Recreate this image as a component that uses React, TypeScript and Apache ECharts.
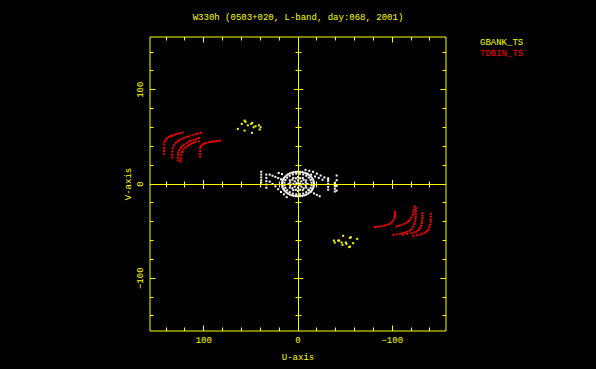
import React, { useEffect, useRef } from "react";
import * as echarts from "echarts";

const TITLE = "W330h (0503+020, L-band, day:068, 2001)";
const X_NAME = "U-axis";
const Y_NAME = "V-axis";
const X_MIN = -157;
const X_MAX = 157;
const Y_MIN = -156;
const Y_MAX = 156;
const TICK_VALUES = [-140, -120, -100, -80, -60, -40, -20, 0, 20, 40, 60, 80, 100, 120, 140];
const LABEL_VALUES = [-100, 0, 100];

// GBANK_TS (yellow) clusters
const GBANK_UPPER: [number, number][] = [
  [56.7, 67.3], [55.6, 66], [59.6, 63.8], [53.2, 62.3], [49.6, 63.8], [48.5, 64.9],
  [47.1, 60.2], [45, 61.3], [41.5, 62.3], [39.7, 60.2], [63.8, 58.5], [56.7, 56.7],
  [48.9, 54.3], [40.7, 57.8],
];
const GBANK_LOWER: [number, number][] = [
  [-38, -60], [-39, -62.1], [-42.6, -60], [-43.6, -60], [-46.2, -62.1], [-47.9, -55],
  [-47.2, -64.6], [-50.7, -62.1], [-51.5, -63.5], [-55, -57.1], [-56.1, -56.5],
  [-54.3, -67], [-55, -66.4], [-58.5, -62.8], [-62.8, -58.2],
];

// TDBIN_TS (red) arcs
const TDBIN_ARC1: [number, number][] = [
  [142, 32], [142, 35], [142, 38], [142, 42], [141.5, 45], [140.4, 47], [139, 48.5],
  [136.8, 50], [135, 51], [133, 51.5], [130.5, 52.5], [128, 53.2], [125.5, 54], [122.7, 54.5],
];
const TDBIN_ARC2: [number, number][] = [
  [133.3, 28], [133.3, 31], [133.3, 34.5], [133, 38], [131.5, 41], [129.8, 43.6], [128, 45],
  [126.2, 46.4], [123.5, 47.8], [121, 49], [118, 50], [115.5, 50.6], [112, 51.8], [108.5, 53],
  [106, 53.6], [103, 54.3],
];
const TDBIN_ARC3: [number, number][] = [
  [127, 25], [127.2, 28], [127.2, 31], [127, 33.5], [126, 36], [124.5, 38.3], [123, 40],
  [121, 41.8], [118, 43.5], [115.5, 45.3], [113, 46], [110.2, 47], [107.5, 48], [105, 49],
];
const TDBIN_ARC4: [number, number][] = [
  [124.5, 24], [124, 27], [123.7, 31], [123, 34], [121.6, 36.5], [119.5, 38.5], [117.3, 40],
  [115.5, 41.3], [113.8, 42.6], [111, 43.6], [108.5, 44.7], [105, 45.3],
];
const TDBIN_ARC5: [number, number][] = [
  [103.8, 29], [103.8, 32], [103.8, 35], [103.8, 38.3], [102.8, 40.2], [101.4, 41.8],
  [99.5, 42.8], [97.9, 43.6], [95, 44.3], [92.6, 44.7], [90, 45], [87.2, 45.3], [85, 45.7], [82.6, 46.1],
];
const TDBIN_ARCA: [number, number][] = [
  [-81.6, -45.7], [-84, -45.4], [-86.9, -45.1], [-89.5, -44.6], [-92.2, -44], [-95, -43.2],
  [-97.6, -42.2], [-99.5, -40.6], [-101.1, -38.7], [-102.2, -36.5], [-102.9, -34.5],
  [-102.9, -33], [-102.9, -31.6], [-103, -29.5],
];
const TDBIN_ARCB: [number, number][] = [
  [-101.1, -53.9], [-104.5, -53.4], [-108.2, -52.9], [-111, -52.2], [-113.5, -51.5],
  [-116, -50.6], [-118.8, -49.4], [-120.8, -47.5], [-122.3, -45.1], [-123.4, -42.4],
  [-124.1, -39.8], [-124.6, -37], [-124.9, -34.5], [-125, -31.5], [-125.1, -28.5], [-125.2, -25.5],
];
const TDBIN_ARCC: [number, number][] = [
  [-104.7, -45.1], [-107.3, -44.3], [-110, -43.3], [-112.7, -42.2], [-115.3, -40.9],
  [-117.2, -39.5], [-118.8, -38], [-120.4, -35.5], [-121.7, -32.7], [-122.5, -30],
  [-123.1, -27.3], [-123.4, -23.8],
];
const TDBIN_ARCD: [number, number][] = [
  [-111.7, -53.9], [-116, -53], [-120.6, -52.1], [-123.5, -51.3], [-126, -50.4], [-128, -48.8],
  [-129.5, -46.8], [-130.6, -44.2], [-131.3, -41.5], [-131.7, -38.8], [-131.9, -36.2],
  [-131.9, -33.5], [-131.9, -30.9],
];
const TDBIN_ARCE: [number, number][] = [
  [-122.3, -55], [-126, -54.3], [-129.5, -53.6], [-132, -52.6], [-134.8, -51.5], [-136.7, -50.2],
  [-138.3, -48.6], [-139.3, -46], [-140.1, -43.3], [-140.6, -40.6], [-140.9, -38],
  [-140.9, -34.8], [-140.9, -31.6],
];

// Short-baseline (white) points around the origin
const WHITE_OUTER: [number, number][] = [
  [17, 0], [16.4, 3.4], [14.7, 6.5], [12, 9.2], [8.5, 11.3], [4.4, 12.6], [0, 13],
  [-4.4, 12.6], [-8.5, 11.3], [-12, 9.2], [-14.7, 6.5], [-16.4, 3.4], [-17, 0],
  [-16.4, -3.4], [-14.7, -6.5], [-12, -9.2], [-8.5, -11.3], [-4.4, -12.6], [0, -13],
  [4.4, -12.6], [8.5, -11.3], [12, -9.2], [14.7, -6.5], [16.4, -3.4],
  [16.8, 1.7], [15.7, 5], [13.5, 7.9], [10.4, 10.3], [6.5, 12], [2.2, 12.9],
  [-2.2, 12.9], [-6.5, 12], [-10.4, 10.3], [-13.5, 7.9], [-15.7, 5], [-16.8, 1.7],
  [-16.8, -1.7], [-15.7, -5], [-13.5, -7.9], [-10.4, -10.3], [-6.5, -12], [-2.2, -12.9],
  [2.2, -12.9], [6.5, -12], [10.4, -10.3], [13.5, -7.9], [15.7, -5], [16.8, -1.7],
];
const WHITE_OUTER2: [number, number][] = [
  [14.4, 1.4], [13.4, 4.2], [11.5, 6.7], [8.8, 8.7], [5.5, 10.2], [1.9, 10.9],
  [-1.9, 10.9], [-5.5, 10.2], [-8.8, 8.7], [-11.5, 6.7], [-13.4, 4.2], [-14.4, 1.4],
  [-14.4, -1.4], [-13.4, -4.2], [-11.5, -6.7], [-8.8, -8.7], [-5.5, -10.2], [-1.9, -10.9],
  [1.9, -10.9], [5.5, -10.2], [8.8, -8.7], [11.5, -6.7], [13.4, -4.2], [14.4, -1.4],
];
const WHITE_MIDDLE: [number, number][] = [
  [10, 0], [8.7, 3.8], [5, 6.5], [0, 7.5], [-5, 6.5], [-8.7, 3.8], [-10, 0], [-8.7, -3.8],
  [-5, -6.5], [0, -7.5], [5, -6.5], [8.7, -3.8],
  [8.2, 1.6], [6, 4.5], [2.2, 6.1], [-2.2, 6.1], [-6, 4.5], [-8.2, 1.6], [-8.2, -1.6],
  [-6, -4.5], [-2.2, -6.1], [2.2, -6.1], [6, -4.5], [8.2, -1.6],
];
const WHITE_INNER: [number, number][] = [
  [5, 0], [3.5, 2.8], [0, 4], [-3.5, 2.8], [-5, 0], [-3.5, -2.8], [0, -4], [3.5, -2.8],
  [0, 0], [1.5, 1], [-1.5, -1], [2, -0.5], [-2, 0.5],
];
const WHITE_TAILS: [number, number][] = [
  [39, 13], [39, 10], [39, 7], [39, 4], [39, 1.5],
  [33.6, 10], [33.6, 6.5], [33.6, 3], [33.6, -0.5], [33.6, -4],
  [30, 2.5], [27, 0], [24, -2.5], [21, -5.5], [18, -8.5], [15, -11], [12, -14],
  [30, 10], [27, 8.8], [24, 7.6], [21, 6.3], [18, 5],
  [20.5, 11.7], [17, 10.5],
  [-8, 15], [-12, 14], [-16, 13], [-20, 11], [-24, 9], [-28, 7], [-32, 5],
  [-10, 11], [-14, 10], [-18, 8], [-22, 6.5], [-26, 4.5],
  [-11, -6], [-14, -8], [-17, -10], [-20, -11.5], [-23, -13],
  [-32, 6], [-32, 3], [-32, 0], [-32, -3], [-32, -6],
  [-39, 1], [-39, -2], [-39, -5], [-39, -8],
  [-41, 9], [-41, 4], [-41, -2], [-41, -7],
];

const YELLOW = "#ffff00";
const RED = "#ff0000";
const WHITE = "#ffffff";
const FONT = "Liberation Mono";

function fmt(v: number) {
  if (!LABEL_VALUES.includes(v)) return "";
  return v < 0 ? "\u2212" + String(-v) : String(v);
}

export default function App() {
  const ref = useRef<HTMLDivElement>(null);
  useEffect(() => {
    document.body.style.margin = "0";
    document.body.style.background = "#000";
    const chart = echarts.init(ref.current!, null, { renderer: "svg" });
    const gbank = [...GBANK_UPPER, ...GBANK_LOWER];
    const tdbin = [
      ...TDBIN_ARC1, ...TDBIN_ARC2, ...TDBIN_ARC3, ...TDBIN_ARC4, ...TDBIN_ARC5,
      ...TDBIN_ARCA, ...TDBIN_ARCB, ...TDBIN_ARCC, ...TDBIN_ARCD, ...TDBIN_ARCE,
    ];
    const white = [...WHITE_OUTER, ...WHITE_OUTER2, ...WHITE_MIDDLE, ...WHITE_INNER, ...WHITE_TAILS];
    const lineStyle = { stroke: YELLOW, lineWidth: 1 };
    const snap = (v: number) => Math.round(v - 0.5) + 0.5;
    const pointSeries = (name: string, color: string, data: [number, number][]) => ({
      name,
      type: "scatter",
      symbol: "rect",
      symbolSize: 2,
      itemStyle: { color, opacity: 1 },
      data,
      silent: true,
    });
    const option: any = {
      animation: false,
      backgroundColor: "#000",
      title: {
        text: TITLE,
        left: "center",
        top: 8,
        textStyle: { color: YELLOW, fontSize: 9, fontWeight: "normal", fontFamily: FONT },
      },
      legend: {
        orient: "vertical",
        left: 470,
        top: 33,
        icon: "none",
        itemWidth: 0,
        itemHeight: 8,
        itemGap: 2,
        selectedMode: false,
        textStyle: { fontSize: 9, fontFamily: FONT },
        data: [
          { name: "GBANK_TS", textStyle: { color: YELLOW } },
          { name: "TDBIN_TS", textStyle: { color: RED } },
        ],
      },
      grid: {
        left: 150,
        top: 37,
        width: 296,
        height: 294,
        show: true,
        borderColor: YELLOW,
        borderWidth: 1,
        backgroundColor: "transparent",
      },
      xAxis: {
        type: "value",
        min: X_MIN,
        max: X_MAX,
        inverse: true,
        axisLine: { show: false },
        axisTick: { show: false },
        splitLine: { show: false },
        axisLabel: {
          customValues: LABEL_VALUES,
          formatter: fmt,
          color: YELLOW,
          fontSize: 9,
          fontFamily: FONT,
          margin: 5,
        },
        name: X_NAME,
        nameLocation: "middle",
        nameGap: 22,
        nameTextStyle: { color: YELLOW, fontSize: 9, fontFamily: FONT },
      },
      yAxis: {
        type: "value",
        min: Y_MIN,
        max: Y_MAX,
        axisLine: { show: false },
        axisTick: { show: false },
        splitLine: { show: false },
        axisLabel: {
          customValues: LABEL_VALUES,
          formatter: fmt,
          color: YELLOW,
          fontSize: 9,
          fontFamily: FONT,
          rotate: 90,
          margin: 5,
        },
        name: Y_NAME,
        nameLocation: "middle",
        nameRotate: 90,
        nameGap: 17,
        nameTextStyle: { color: YELLOW, fontSize: 9, fontFamily: FONT },
      },
      series: [
        pointSeries("WHITE", WHITE, white),
        pointSeries("GBANK_TS", YELLOW, gbank),
        pointSeries("TDBIN_TS", RED, tdbin),
        {
          name: "ticks",
          type: "custom",
          z: 5,
          clip: false,
          silent: true,
          data: TICK_VALUES.map((t) => [t, 0]),
          renderItem: (params: any, api: any) => {
            const t = api.value(0);
            const major = LABEL_VALUES.includes(t);
            const fl = major ? 5.5 : 3.5;
            const cl = major ? 4.5 : 3;
            const children: any[] = [];
            const add = (x1: number, y1: number, x2: number, y2: number) =>
              children.push({ type: "line", shape: { x1, y1, x2, y2 }, style: lineStyle });
            const b = api.coord([t, Y_MIN]);
            add(snap(b[0]), b[1], snap(b[0]), b[1] - fl);
            const tp = api.coord([t, Y_MAX]);
            add(snap(tp[0]), tp[1], snap(tp[0]), tp[1] + fl);
            const l = api.coord([X_MAX, t]);
            add(l[0], snap(l[1]), l[0] + fl, snap(l[1]));
            const r = api.coord([X_MIN, t]);
            add(r[0], snap(r[1]), r[0] - fl, snap(r[1]));
            const ch = api.coord([t, 0]);
            add(snap(ch[0]), snap(ch[1]) - cl, snap(ch[0]), snap(ch[1]) + cl);
            const cv = api.coord([0, t]);
            add(snap(cv[0]) - cl, snap(cv[1]), snap(cv[0]) + cl, snap(cv[1]));
            if (params.dataIndex === 0) {
              const a1 = api.coord([X_MAX, 0]);
              const a2 = api.coord([X_MIN, 0]);
              add(a1[0], snap(a1[1]), a2[0], snap(a2[1]));
              const v1 = api.coord([0, Y_MIN]);
              const v2 = api.coord([0, Y_MAX]);
              add(snap(v1[0]), v1[1], snap(v2[0]), v2[1]);
            }
            return { type: "group", children };
          },
        },
      ],
    };
    chart.setOption(option);
    return () => chart.dispose();
  }, []);
  return (
    <div
      ref={ref}
      style={{ position: "absolute", left: 0, top: 0, width: 596, height: 369, background: "#000" }}
    />
  );
}
